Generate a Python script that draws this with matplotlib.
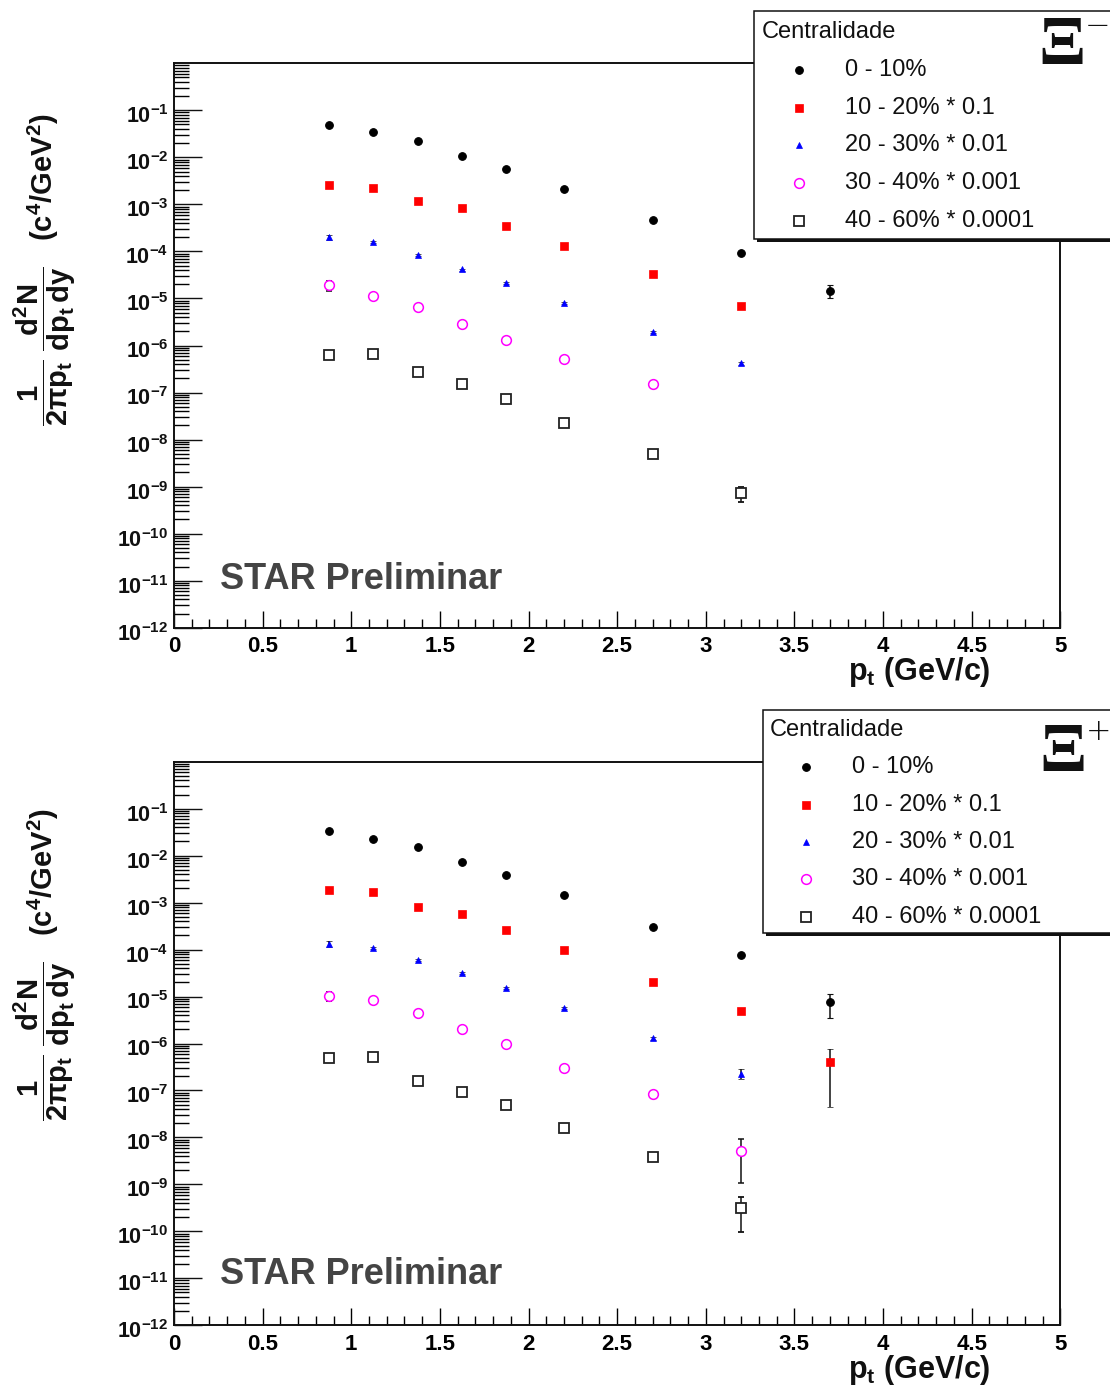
import numpy as np
import matplotlib
matplotlib.use("Agg")
import matplotlib.pyplot as plt
from matplotlib.ticker import FixedLocator, FixedFormatter, NullFormatter
from matplotlib.lines import Line2D
from matplotlib.patches import Rectangle
from matplotlib.transforms import ScaledTranslation

plt.rcParams['font.family'] = ['Liberation Sans', 'DejaVu Sans']
plt.rcParams['mathtext.fontset'] = 'custom'
plt.rcParams['mathtext.rm'] = 'Liberation Sans'
plt.rcParams['mathtext.it'] = 'Liberation Sans:italic'
plt.rcParams['mathtext.bf'] = 'Liberation Sans:bold'

# ---------------- data ----------------
pt = [0.875, 1.125, 1.375, 1.625, 1.875, 2.2, 2.7, 3.2, 3.7]

labels = ["0 - 10%", "10 - 20% * 0.1", "20 - 30% * 0.01",
          "30 - 40% * 0.001", "40 - 60% * 0.0001"]

# Xi- (top panel)
xim_0_10 = [4.85e-2, 3.52e-2, 2.22e-2, 1.09e-2, 5.65e-3, 2.12e-3, 4.67e-4, 9.16e-5, 1.45e-5]
xim_0_10_err = [1.5e-3, 1.0e-3, 6e-4, 3e-4, 1.6e-4, 6e-5, 1.5e-5, 4e-6, 4.5e-6]
xim_10_20 = [2.58e-3, 2.28e-3, 1.18e-3, 8.55e-4, 3.40e-4, 1.29e-4, 3.28e-5, 6.76e-6]
xim_10_20_err = [1e-4, 8e-5, 4e-5, 3e-5, 1.2e-5, 5e-6, 1.2e-6, 4e-7]
xim_20_30 = [2.03e-4, 1.62e-4, 8.43e-5, 4.13e-5, 2.14e-5, 8.07e-6, 1.90e-6, 4.17e-7]
xim_20_30_err = [2.5e-5, 8e-6, 4e-6, 2e-6, 1e-6, 4e-7, 1e-7, 3e-8]
xim_30_40 = [1.91e-5, 1.12e-5, 6.53e-6, 2.81e-6, 1.30e-6, 5.14e-7, 1.49e-7]
xim_30_40_err = [4.5e-6, 6e-7, 3e-7, 1.5e-7, 7e-8, 3e-8, 1e-8]
xim_40_60 = [6.25e-7, 6.67e-7, 2.69e-7, 1.49e-7, 7.28e-8, 2.25e-8, 5.03e-9, 7.24e-10]
xim_40_60_err = [4e-8, 3e-8, 1.3e-8, 8e-9, 4e-9, 1.2e-9, 3e-10, 2.5e-10]

# Xi+ (bottom panel)
xip_0_10 = [3.29e-2, 2.22e-2, 1.50e-2, 7.36e-3, 3.82e-3, 1.43e-3, 2.99e-4, 7.48e-5, 7.50e-6]
xip_0_10_err = [1.2e-3, 8e-4, 5e-4, 3e-4, 1.5e-4, 6e-5, 1.3e-5, 4e-6, 4.0e-6]
xip_10_20 = [1.87e-3, 1.66e-3, 7.96e-4, 5.76e-4, 2.64e-4, 9.90e-5, 2.07e-5, 4.83e-6, 4.04e-7]
xip_10_20_err = [8e-5, 6e-5, 3e-5, 2e-5, 1e-5, 4e-6, 1e-6, 4e-7, 3.6e-7]
xip_20_30 = [1.33e-4, 1.09e-4, 6.07e-5, 3.15e-5, 1.54e-5, 5.78e-6, 1.29e-6, 2.29e-7]
xip_20_30_err = [2e-5, 6e-6, 3e-6, 1.5e-6, 8e-7, 3e-7, 8e-8, 5.5e-8]
xip_30_40 = [1.04e-5, 8.39e-6, 4.44e-6, 2.00e-6, 9.73e-7, 3.01e-7, 8.59e-8, 5.16e-9]
xip_30_40_err = [2.3e-6, 1.2e-6, 3e-7, 1.2e-7, 6e-8, 2e-8, 6e-9, 4.1e-9]
xip_40_60 = [5.00e-7, 5.08e-7, 1.57e-7, 9.29e-8, 4.84e-8, 1.57e-8, 3.74e-9, 3.13e-10]
xip_40_60_err = [6e-8, 3e-8, 1e-8, 6e-9, 3e-9, 1e-9, 3e-10, 2.15e-10]

y_exponents = list(range(-12, 0))
x_major = [0, 0.5, 1, 1.5, 2, 2.5, 3, 3.5, 4, 4.5, 5]
x_labels = ["0", "0.5", "1", "1.5", "2", "2.5", "3", "3.5", "4", "4.5", "5"]

styles = [
    dict(marker='o', ms=5.5, mfc='black', mec='black', mew=0.8),
    dict(marker='s', ms=6.0, mfc='red', mec='red', mew=0.5),
    dict(marker='^', ms=5.0, mfc='blue', mec='blue', mew=0.5),
    dict(marker='o', ms=7.0, mfc='white', mec='#ff00ff', mew=1.1),
    dict(marker='s', ms=6.5, mfc='white', mec='#222222', mew=1.3),
]

W, H = 1110, 1393


def fx(px):
    return px / W


def fy(py):
    return 1 - py / H


def setup_axes(ax):
    ax.set_yscale('log')
    ax.set_xlim(0, 5)
    ax.set_ylim(1e-12, 1.0)
    ax.yaxis.set_major_locator(FixedLocator([10.0 ** e for e in y_exponents]))
    ax.yaxis.set_major_formatter(FixedFormatter([r"$\mathbf{10^{%d}}$" % e for e in y_exponents]))
    minors = [m * 10.0 ** e for e in range(-12, 0) for m in range(2, 10)]
    ax.yaxis.set_minor_locator(FixedLocator(minors))
    ax.yaxis.set_minor_formatter(NullFormatter())
    ax.xaxis.set_major_locator(FixedLocator(x_major))
    ax.xaxis.set_major_formatter(FixedFormatter(x_labels))
    ax.xaxis.set_minor_locator(FixedLocator(np.arange(0, 5.0001, 0.1)))
    ax.tick_params(axis='y', which='major', direction='in', length=20.5, width=1.0,
                   left=True, right=False, labelsize=15.5, pad=4, colors='#111111')
    ax.tick_params(axis='y', which='minor', direction='in', length=10.5, width=1.0,
                   left=True, right=False)
    ax.tick_params(axis='x', which='major', direction='in', length=12, width=1.0,
                   bottom=True, top=False, labelsize=16, pad=6)
    ax.tick_params(axis='x', which='minor', direction='in', length=6.5, width=1.0,
                   bottom=True, top=False)
    for lab in ax.get_xticklabels():
        lab.set_fontweight('bold')
    shift = ScaledTranslation(0, -4 / 100, fig.dpi_scale_trans)
    for tick in ax.yaxis.get_major_ticks():
        tick.label1.set_transform(tick.label1.get_transform() + shift)
    for s in ax.spines.values():
        s.set_linewidth(1.4)
        s.set_color('#111111')


def draw_panel(ax, series, errors):
    for vals, errs, st in zip(series, errors, styles):
        n = len(vals)
        ax.errorbar(pt[:n], vals, yerr=errs, linestyle='none', ecolor='#111111',
                    elinewidth=1.1, capsize=2.5, capthick=1.1, zorder=3, **st)


def draw_legend(x0, y0, y1, title_x, title_y, rows_y, mark_x, text_x, sign, sign_xy, xi_xy):
    # shadow + box
    fig.patches.append(Rectangle((fx(x0 + 3), fy(y1 + 3)), fx(W + 20 - x0), (y1 - y0) / H,
                                 transform=fig.transFigure, facecolor='#111111',
                                 edgecolor='none', zorder=10))
    fig.patches.append(Rectangle((fx(x0), fy(y1)), fx(W + 20 - x0), (y1 - y0) / H,
                                 transform=fig.transFigure, facecolor='white',
                                 edgecolor='#111111', lw=1.1, zorder=11))
    fig.text(fx(title_x), fy(title_y), "Centralidade", fontsize=17, color='#111111',
             ha='left', va='center', zorder=12)
    for yy, lab, st in zip(rows_y, labels, styles):
        fig.add_artist(Line2D([fx(mark_x)], [fy(yy)], transform=fig.transFigure,
                              linestyle='none', zorder=12, **st))
        fig.text(fx(text_x), fy(yy), lab, fontsize=17, color='#111111',
                 ha='left', va='center', zorder=12)
    fig.text(fx(xi_xy[0]), fy(xi_xy[1]), "Ξ", fontsize=50, fontweight='bold',
             family=['Liberation Serif', 'DejaVu Serif'], ha='center', va='center',
             color='#111111', zorder=12)
    fig.text(fx(sign_xy[0]), fy(sign_xy[1]), sign, fontsize=22, fontweight='light',
             family=['DejaVu Sans'], ha='center', va='center', color='#111111', zorder=12)


fig = plt.figure(figsize=(W / 100, H / 100), dpi=100)

ax1 = fig.add_axes([fx(174), fy(627.7), fx(1060.3) - fx(174), (627.7 - 63.3) / H])
ax2 = fig.add_axes([fx(174), fy(1325.3), fx(1060.3) - fx(174), (1325.3 - 761.7) / H])

for ax in (ax1, ax2):
    setup_axes(ax)

draw_panel(ax1, [xim_0_10, xim_10_20, xim_20_30, xim_30_40, xim_40_60],
           [xim_0_10_err, xim_10_20_err, xim_20_30_err, xim_30_40_err, xim_40_60_err])
draw_panel(ax2, [xip_0_10, xip_10_20, xip_20_30, xip_30_40, xip_40_60],
           [xip_0_10_err, xip_10_20_err, xip_20_30_err, xip_30_40_err, xip_40_60_err])

ylab = (r"$\mathbf{\dfrac{1}{2\pi p_{t}}\ \dfrac{d^{2}N}{dp_{t}\,dy}}$" + "   "
        + r"$\mathbf{(c^{4}/GeV^{2})}$")
for ycen, xlab_y, star_y in ((270, 672, 579), (965, 1370, 1274)):
    fig.text(fx(45), fy(ycen), ylab, rotation=90, fontsize=21, ha='center', va='center',
             color='#111111')
    fig.text(fx(991), fy(xlab_y), r"$\mathbf{p_{t}\ (GeV/c)}$", fontsize=22, ha='right',
             va='center', color='#111111')
    fig.text(fx(220), fy(star_y), "STAR Preliminar", fontsize=26, fontweight='bold',
             ha='left', va='center', color='#444444')

draw_legend(754, 11, 239, 762, 32, [70, 107.5, 145, 183, 221], 799, 845,
            "−", (1097, 27), (1062, 47))
draw_legend(763, 710, 933, 770, 730, [767, 805, 842, 879, 917], 806, 852,
            "+", (1099, 732), (1063, 754))

fig.savefig("out.png", dpi=100)
